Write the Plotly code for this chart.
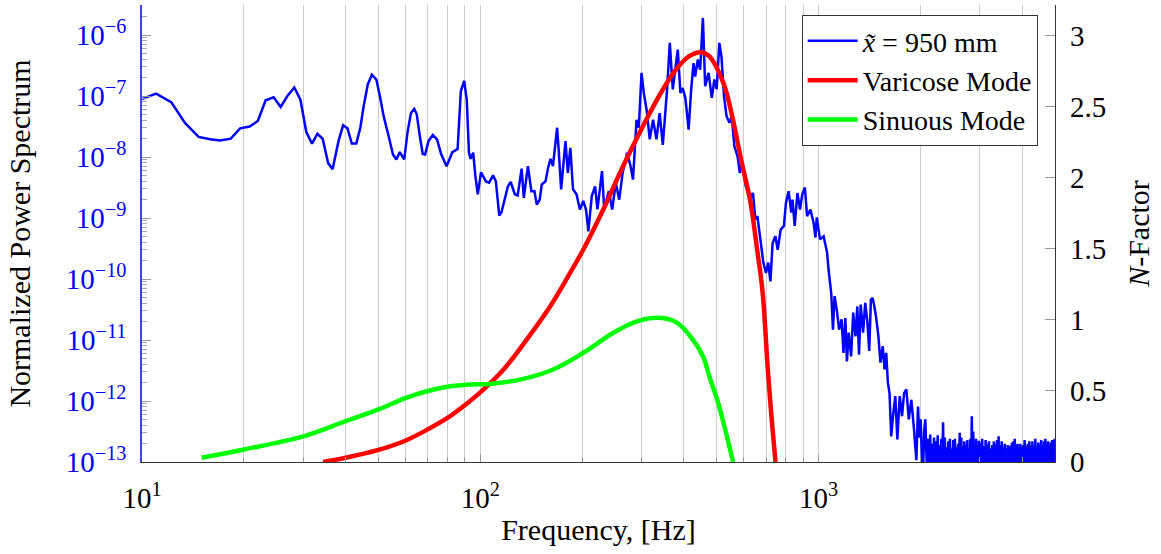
import numpy as np
import plotly.graph_objects as go

# ---------------- data ----------------
# Power spectrum at x~ = 950 mm: frequency [Hz] and log10(normalized PSD)
psd_freq_main = [
    10.0, 11.0, 12.2, 13.4, 14.7, 15.9, 17.0, 18.3, 19.5, 20.8, 22.0, 23.2, 24.5, 25.7, 26.9, 28.2,
    29.4, 30.6, 31.8, 33.0, 34.2, 35.5, 36.6, 38.1, 39.3, 40.5, 41.7, 43.0, 44.2, 45.2, 46.5, 47.8,
    49.3, 50.6, 51.8, 53.6, 55.2, 56.5, 57.8, 59.6, 61.0, 62.4, 63.8, 64.9, 66.4, 67.6, 68.7, 70.3,
    72.4, 74.5, 76.6, 79.5, 82.7, 85.7, 87.6, 89.6, 91.2, 92.6, 93.6, 95.3, 96.7, 98.3, 100.5,
    103.9, 106.2, 109.1, 111.2, 113.8, 115.6, 118.0, 120.7, 123.0, 126.5, 129.0, 132.5, 134.5, 138.3,
    141.6, 144.6, 146.9, 149.8, 152.0, 155.9, 158.6, 161.3, 164.0, 168.7, 170.5, 173.4, 178.6, 181.5,
    184.6, 188.0, 192.5, 197.0, 201.6, 205.5, 208.7, 213.6, 218.5, 222.0, 229.0, 232.5, 239.8, 245.5,
    251.5, 257.5, 263.5, 271.7, 278.2, 282.8, 289.7, 294.2, 299.7, 304.4, 310.1, 317.0, 324.2, 331.8,
    339.0, 346.4, 352.0, 356.6, 363.3, 370.8, 376.9, 383.6, 390.5, 396.6, 403.8, 413.0, 420.2, 427.0,
    431.7, 439.7, 446.7, 455.1, 462.2, 473.0, 483.4, 492.1, 499.8, 509.0, 516.3, 525.4, 534.5, 545.3,
    553.9, 563.7, 576.2, 585.1, 595.2, 609.2, 618.3, 628.7, 640.0, 650.2, 659.5, 671.3, 686.7, 699.0,
    710.0, 720.6, 731.5, 745.5, 757.2, 772.7, 790.0, 801.1, 815.6, 830.6, 837.5, 850.0, 866.0, 881.5,
    895.0, 911.0, 925.0, 946.0, 967.0, 979.0, 988.0, 1010, 1035, 1060, 1070, 1090, 1103, 1115,
    1135, 1150, 1170, 1185, 1200, 1213, 1228, 1248, 1266, 1286, 1302, 1317, 1332, 1354, 1374, 1395,
    1412, 1428, 1445, 1462, 1478, 1503, 1524, 1548, 1567, 1585, 1603, 1621, 1640, 1660, 1686, 1710,
    1737, 1765, 1790, 1818, 1848, 1881, 1915, 1946, 1968, 1985, 2004, 2020, 2036, 2052, 2068, 2082,
    2096,
]
psd_log10_main = [
    -7.05, -6.96, -7.10, -7.44, -7.67, -7.71, -7.73, -7.70, -7.53, -7.50, -7.41, -7.07, -7.02, -7.18, -7.00, -6.86,
    -7.06, -7.59, -7.78, -7.62, -7.70, -8.10, -8.20, -7.74, -7.48, -7.53, -7.78, -7.78, -7.52, -7.17, -6.81, -6.65,
    -6.73, -7.03, -7.33, -7.66, -7.96, -8.04, -7.92, -8.04, -7.58, -7.28, -7.21, -7.30, -7.69, -7.95, -7.96, -7.74,
    -7.64, -7.71, -7.95, -8.15, -7.92, -7.87, -6.92, -6.75, -7.06, -7.93, -8.03, -7.93, -8.31, -8.61, -8.25,
    -8.40, -8.42, -8.30, -8.40, -8.96, -8.90, -8.70, -8.48, -8.41, -8.61, -8.63, -8.19, -8.67, -8.15,
    -8.56, -8.56, -8.78, -8.70, -8.45, -8.40, -8.18, -8.03, -8.15, -7.52, -7.88, -8.53, -7.74, -8.26,
    -7.85, -8.53, -8.61, -8.86, -8.72, -8.87, -9.22, -8.64, -8.48, -8.86, -8.23, -8.86, -8.56, -8.86,
    -8.42, -8.70, -8.26, -7.93, -8.15, -8.37, -7.39, -7.52, -6.62, -6.95, -7.22, -7.71, -7.39, -7.71,
    -7.28, -7.80, -7.30, -6.89, -6.13, -6.89, -6.57, -6.24, -6.95, -6.87, -7.03, -7.55, -6.89, -6.46,
    -6.68, -6.40, -6.57, -5.72, -6.84, -6.62, -7.03, -6.73, -6.89, -6.13, -6.35, -7.00, -7.33, -7.44,
    -7.33, -7.82, -7.99, -8.26, -8.07, -8.48, -8.56, -8.64, -8.59, -9.02, -8.97, -9.30, -9.73, -9.90,
    -9.73, -10.04, -9.41, -9.30, -9.52, -9.19, -9.13, -8.75, -8.56, -8.91, -8.70, -9.13, -8.59, -8.86,
    -8.61, -8.50, -8.97, -8.86, -9.08, -9.32, -8.99, -9.35, -9.30, -9.57, -9.84, -10.23, -10.83, -10.28,
    -10.55, -10.83, -10.66, -11.21, -10.64, -11.35, -10.88, -11.27, -10.55, -10.94, -10.45, -11.24, -10.42, -10.88, -10.39, -10.72,
    -11.18, -10.34, -10.31, -10.45, -10.61, -10.94, -11.37, -11.10, -11.48, -11.21, -11.70, -11.87, -12.58, -12.25, -11.92, -12.63,
    -11.92, -12.25, -11.87, -11.81, -12.30, -11.98, -12.47, -12.97, -12.09, -12.60, -12.30, -12.90, -13.20, -12.50, -12.30, -12.80,
    -13.30,
]
# high-frequency noise floor (dense, clipped by the axis bottom)
psd_freq_tail = [
    2110, 2124, 2138, 2152, 2166, 2180, 2194, 2208, 2222, 2236, 2250, 2264, 2278, 2292, 2306, 2320,
    2334, 2348, 2362, 2376, 2390, 2404, 2418, 2432, 2446, 2460, 2474, 2488, 2502, 2516, 2530, 2544,
    2558, 2572, 2586, 2600, 2614, 2628, 2642, 2656, 2670, 2684, 2698, 2712, 2726, 2740, 2754, 2768,
    2782, 2796, 2810, 2824, 2838, 2852, 2866, 2880, 2894, 2908, 2922, 2936, 2950, 2964, 2978, 2992,
    3010, 3028, 3046, 3064, 3082, 3100, 3118, 3136, 3154, 3172, 3190, 3208, 3226, 3244, 3262, 3280,
    3298, 3316, 3334, 3352, 3370, 3388, 3406, 3424, 3442, 3460, 3478, 3496, 3514, 3532, 3550, 3568,
    3586, 3604, 3622, 3640, 3658, 3676, 3694, 3712, 3730, 3748, 3766, 3784, 3802, 3820, 3838, 3856,
    3874, 3892, 3910, 3928, 3946, 3964, 3982, 4000, 4022, 4044, 4066, 4088, 4110, 4132, 4154, 4176,
    4198, 4220, 4242, 4264, 4286, 4308, 4330, 4352, 4374, 4396, 4418, 4440, 4462, 4484, 4506, 4528,
    4550, 4572, 4594, 4616, 4638, 4660, 4682, 4704, 4726, 4748, 4770, 4792, 4814, 4836, 4858, 4880,
    4902, 4924, 4946, 4968, 4990, 5012, 5034,
]
psd_log10_tail = [
    -12.62, -13.3, -12.55, -13.3, -12.70, -13.3, -12.60, -13.3, -12.66, -13.3, -12.56, -13.3, -12.72, -13.3, -12.62, -13.3,
    -12.35, -13.3, -12.60, -13.3, -12.76, -13.3, -12.66, -13.3, -12.62, -13.3, -12.78, -13.3, -12.64, -13.3, -12.62, -13.3,
    -12.76, -13.3, -12.70, -13.3, -12.52, -13.3, -12.60, -13.3, -12.74, -13.3, -12.66, -13.3, -12.72, -13.3, -12.64, -13.3,
    -12.78, -13.3, -12.62, -13.3, -12.25, -13.3, -12.50, -13.3, -12.70, -13.3, -12.62, -13.3, -12.72, -13.3, -12.65, -13.3,
    -12.68, -13.3, -12.62, -13.3, -12.74, -13.3, -12.64, -13.3, -12.70, -13.3, -12.66, -13.3, -12.78, -13.3, -12.72, -13.3,
    -12.66, -13.3, -12.70, -13.3, -12.64, -13.3, -12.58, -13.3, -12.72, -13.3, -12.66, -13.3, -12.76, -13.3, -12.70, -13.3,
    -12.78, -13.3, -12.72, -13.3, -12.76, -13.3, -12.73, -13.3, -12.68, -13.3, -12.66, -13.3, -12.62, -13.3, -12.72, -13.3,
    -12.70, -13.3, -12.75, -13.3, -12.70, -13.3, -12.76, -13.3, -12.72, -13.3, -12.64, -13.3, -12.74, -13.3, -12.70, -13.3,
    -12.66, -13.3, -12.74, -13.3, -12.66, -13.3, -12.72, -13.3, -12.62, -13.3, -12.74, -13.3, -12.68, -13.3, -12.72, -13.3,
    -12.64, -13.3, -12.74, -13.3, -12.66, -13.3, -12.62, -13.3, -12.72, -13.3, -12.66, -13.3, -12.74, -13.3, -12.68, -13.3,
    -12.64, -13.3, -12.72, -13.3, -12.62, -13.3, -12.64,
]
assert len(psd_freq_main) == len(psd_log10_main)
assert len(psd_freq_tail) == len(psd_log10_tail)

# N-factor curves (right axis)
varicose_freq = [34.3, 40, 50, 60, 70, 80, 90, 100, 117.2, 137.3, 161, 184.3, 201.7, 231, 264.3, 302.6,
                 346.5, 379, 414.7, 449, 475, 523, 555, 590, 629, 658, 683, 708, 727, 746]
varicose_n = [0.0, 0.03, 0.085, 0.15, 0.23, 0.31, 0.40, 0.49, 0.651, 0.863, 1.097, 1.332, 1.496, 1.778,
              2.083, 2.365, 2.623, 2.764, 2.858, 2.886, 2.858, 2.67, 2.44, 2.13, 1.83, 1.50, 1.20, 0.65,
              0.30, 0.0]

sinuous_freq = [15.0, 20, 30, 40, 50, 60, 70, 80, 92.9, 106.6, 131.2, 164.3, 201.7, 247.5, 290.5, 337,
                382, 424.5, 455.3, 477, 505, 536, 559]
sinuous_n = [0.03, 0.088, 0.18, 0.287, 0.37, 0.45, 0.50, 0.53, 0.546, 0.55, 0.58, 0.651, 0.769, 0.91,
             0.99, 1.015, 0.98, 0.863, 0.745, 0.593, 0.417, 0.18, 0.0]

x_major = [10, 100, 1000]
x_major_text = ["10<sup>1</sup>", "10<sup>2</sup>", "10<sup>3</sup>"]
y_major_exp = [-13, -12, -11, -10, -9, -8, -7, -6]
n_ticks = [0, 0.5, 1, 1.5, 2, 2.5, 3]
n_tick_text = ["0", "0.5", "1", "1.5", "2", "2.5", "3"]

# ---------------- figure ----------------
FONT = "Liberation Serif"
psd_freq = psd_freq_main + psd_freq_tail
psd_vals = np.power(10.0, np.array(psd_log10_main + psd_log10_tail))

x_minor = [m * d for d in (10, 100, 1000) for m in range(2, 10) if m * d < 5000]
y_minor = [m * 10.0 ** e for e in range(-13, -5) for m in range(2, 10)]

fig = go.Figure()
fig.add_trace(go.Scatter(x=psd_freq, y=psd_vals, mode="lines", name="<i>x̃</i> = 950 mm",
                         line=dict(color="#0000ff", width=2.5, simplify=False), yaxis="y"))
fig.add_trace(go.Scatter(x=varicose_freq, y=varicose_n, mode="lines", name="Varicose Mode",
                         line=dict(color="#ff0000", width=4.5, shape="spline", smoothing=1.0), yaxis="y2"))
fig.add_trace(go.Scatter(x=sinuous_freq, y=sinuous_n, mode="lines", name="Sinuous Mode",
                         line=dict(color="#00ff00", width=4.5, shape="spline", smoothing=1.0), yaxis="y2"))

fig.update_layout(
    width=1161, height=554,
    margin=dict(l=142, r=106, t=5, b=92),
    paper_bgcolor="white", plot_bgcolor="white",
    font=dict(family=FONT, size=30, color="black"),
    showlegend=True,
    legend=dict(x=0.981, y=0.978, xanchor="right", yanchor="top",
                bgcolor="white", bordercolor="#333333", borderwidth=1,
                font=dict(family=FONT, size=28), tracegroupgap=0, itemwidth=50),
    xaxis=dict(
        type="log", range=[1, np.log10(5000)],
        tickmode="array", tickvals=x_major, ticktext=x_major_text,
        ticks="inside", ticklen=8, tickcolor="#999999",
        showline=True, linecolor="#333333", linewidth=1.3, mirror=False,
        showgrid=True, gridcolor="#cccccc", gridwidth=1, zeroline=False,
        tickfont=dict(size=29), ticklabelstandoff=10,
        minor=dict(tickmode="array", tickvals=x_minor, showgrid=True, gridcolor="#cccccc",
                   gridwidth=1, ticks="inside", ticklen=5, tickcolor="#999999"),
        title=dict(text="Frequency, [Hz]", font=dict(size=30), standoff=6),
    ),
    yaxis=dict(
        type="log", range=[-13, -5.508],
        tickmode="array", tickvals=[10.0 ** e for e in y_major_exp],
        ticktext=["10<sup>−%d</sup>" % (-e) for e in y_major_exp],
        ticks="inside", ticklen=9, tickcolor="#999999",
        showline=True, linecolor="#4040ff", linewidth=1.5,
        showgrid=False, zeroline=False,
        tickfont=dict(size=29, color="#0000ff"), ticklabelstandoff=8,
        minor=dict(tickmode="array", tickvals=y_minor, ticks="inside", ticklen=5,
                   tickcolor="#aaaaaa", showgrid=False),
        title=dict(text="Normalized Power Spectrum", font=dict(size=30, color="black"), standoff=26),
    ),
    yaxis2=dict(
        overlaying="y", side="right", range=[0, 3.218],
        tickmode="array", tickvals=n_ticks, ticktext=n_tick_text,
        ticks="inside", ticklen=10, tickcolor="#999999",
        showline=True, linecolor="#333333", linewidth=1.3,
        showgrid=False, zeroline=False,
        tickfont=dict(size=29), ticklabelstandoff=8,
        title=dict(text="<i>N</i>-Factor", font=dict(size=30), standoff=22),
    ),
)

fig.write_html("out.html")
